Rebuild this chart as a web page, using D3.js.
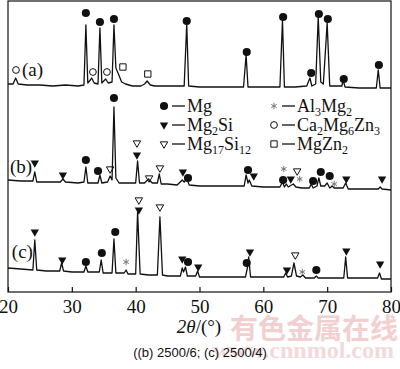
<!DOCTYPE html>
<html>
<head>
<meta charset="utf-8">
<script src="https://cdn.jsdelivr.net/npm/d3@7"></script>
<style>
  body { margin: 0; background: #fff; }
  svg { display: block; font-family: 'Liberation Serif', 'Times New Roman', serif; }
</style>
</head>
<body>
<svg width="400" height="369"></svg>
<script>
// 2theta tick labels
const tickValues = [20, 30, 40, 50, 60, 70, 80];

// [2theta, intensity (a.u.)], stacked as drawn
const patternA = [
  [20, 208], [20.8, 208], [21.2, 214], [21.6, 208], [23, 207], [25, 207], [27, 206],
  [29, 207], [31, 206], [31.9, 207], [32.2, 267], [32.5, 209], [32.9, 212], [33.1, 214],
  [33.5, 209], [34.1, 208], [34.4, 264], [34.7, 209], [35.0, 211], [35.3, 213], [35.7, 209],
  [36.3, 210], [36.6, 267], [36.9, 224], [37.3, 218], [37.8, 210], [38.4, 208], [39.5, 206],
  [40.8, 206], [41.4, 208], [41.8, 211], [42.3, 207], [43, 206], [45, 206], [47.6, 206],
  [48.0, 268], [48.3, 206], [50, 205], [53, 205], [56.9, 205], [57.3, 237], [57.6, 205],
  [59, 205], [62.6, 205], [63.0, 272], [63.3, 205], [65, 205], [66.8, 206], [67.3, 214],
  [67.6, 206], [68.2, 208], [68.6, 275], [69.0, 210], [69.4, 208], [70.0, 269], [70.4, 206],
  [71.5, 206], [72.3, 206], [72.5, 212], [72.8, 205], [75, 204], [77.7, 204], [78.0, 222],
  [78.3, 204], [80, 204]
];

const patternB = [
  [20, 112], [22, 111], [23.9, 111], [24.2, 120], [24.5, 110], [26, 110], [28.2, 110],
  [28.6, 113], [29, 110], [31, 109], [31.9, 110], [32.2, 125], [32.5, 109], [33.5, 109],
  [34.1, 109], [34.4, 117], [34.7, 109], [35.6, 110], [36.0, 116], [36.3, 112], [36.6, 185],
  [36.9, 114], [37.4, 109], [38.5, 109], [40.0, 109], [40.3, 131], [40.6, 109], [41.4, 109],
  [42.0, 113], [42.6, 109], [43.4, 109], [43.7, 118], [44.0, 108], [45, 108], [46.5, 107],
  [47.3, 112], [47.6, 110], [48.0, 113], [48.4, 107], [50, 106], [53, 106], [56, 106],
  [57.0, 106], [57.3, 117], [57.6, 109], [57.8, 112], [58.2, 106], [60, 105], [62.6, 105],
  [63.0, 110], [63.3, 105], [63.6, 108], [63.9, 105], [64.7, 108], [65.1, 105], [66, 104],
  [67.2, 104], [67.5, 108], [67.8, 104], [68.4, 106], [68.7, 114], [69.0, 106], [69.6, 106],
  [70.0, 109], [70.4, 104], [70.8, 106], [71.1, 104], [72.5, 104], [72.9, 109], [73.3, 103],
  [75, 103], [78, 103], [78.3, 105], [78.6, 103], [80, 102]
];

const patternC = [
  [20, 24], [22, 23], [23.9, 22], [24.2, 52], [24.5, 22], [26, 21], [28.1, 21], [28.4, 29],
  [28.7, 21], [30, 20], [31.9, 20], [32.2, 26], [32.5, 20], [34.3, 20], [34.6, 32],
  [34.9, 19], [36.3, 19], [36.6, 53], [36.9, 19], [38.2, 19], [38.5, 22], [38.8, 18],
  [40.0, 18], [40.3, 80], [40.7, 18], [42, 17], [43.4, 17], [43.8, 75], [44.2, 17], [45, 16],
  [47.0, 16], [47.3, 24], [47.5, 20], [47.8, 25], [48.1, 16], [49.4, 16], [49.7, 21],
  [50.0, 15], [52, 15], [55, 15], [57.2, 15], [57.5, 24], [57.7, 35], [58.0, 15], [60, 15],
  [63.2, 15], [63.5, 19], [63.8, 15], [64.4, 16], [64.8, 29], [65.2, 16], [65.8, 15],
  [66.2, 17], [66.6, 14], [68, 14], [68.3, 16], [68.6, 14], [72.6, 14], [72.9, 35],
  [73.2, 14], [75, 14], [77.9, 14], [78.2, 19], [78.5, 13], [80, 13]
];

const patternLabels = ['(a)', '(b)', '(c)'];

// phase markers: [symbol, 2theta, intensity]
const markersA = [
  ['ring', 21.25, 222], ['dot', 32.2, 279], ['ring', 33.3, 220], ['dot', 34.4, 270],
  ['ring', 35.5, 220], ['dot', 36.6, 273], ['box', 38.0, 225], ['box', 41.9, 218],
  ['dot', 48.0, 271], ['dot', 57.4, 240], ['dot', 63.1, 275], ['dot', 67.5, 219],
  ['dot', 68.7, 278], ['dot', 70.1, 273], ['dot', 72.6, 213], ['dot', 78.1, 227]
];

const markersB = [
  ['down', 24.2, 129], ['down', 28.6, 117], ['dot', 32.2, 132], ['dot', 34.1, 121],
  ['downOpen', 36.0, 123], ['dot', 36.6, 194], ['downOpen', 40.2, 149], ['down', 40.2, 137],
  ['downOpen', 42.1, 114], ['downOpen', 43.8, 124], ['down', 47.4, 120], ['dot', 48.2, 114],
  ['dot', 57.6, 122], ['down', 58.5, 116], ['star', 63.2, 123], ['dot', 63.1, 112],
  ['down', 64.3, 113], ['downOpen', 65.3, 121], ['star', 65.7, 113], ['dot', 67.8, 111],
  ['dot', 69.0, 120], ['dot', 70.4, 116], ['star', 71.1, 108], ['down', 73.0, 113],
  ['down', 78.6, 113]
];

const markersC = [
  ['down', 24.2, 60], ['down', 28.5, 32], ['dot', 32.2, 30], ['dot', 34.7, 39],
  ['dot', 36.8, 60], ['star', 38.5, 30], ['downOpen', 40.5, 92], ['down', 40.5, 82],
  ['downOpen', 43.8, 85], ['down', 47.3, 33], ['dot', 48.2, 30], ['down', 49.8, 25],
  ['dot', 57.4, 29], ['down', 57.9, 40], ['down', 63.7, 22], ['downOpen', 65.0, 37],
  ['star', 66.1, 20], ['dot', 68.3, 22], ['down', 73.0, 41], ['down', 78.3, 28]
];

// legend: phase names (_n = subscript) and their symbols
const phaseNames = ['Mg', 'Mg_2Si', 'Mg_17Si_12', 'Al_3Mg_2', 'Ca_2Mg_6Zn_3', 'MgZn_2'];
const phaseSymbols = ['dot', 'down', 'downOpen', 'star', 'ring', 'box'];

const svg = d3.select('svg');
const margin = {top: 1, right: 9, bottom: 77, left: 8};
const width = +svg.attr('width');
const height = +svg.attr('height');

const x = d3.scaleLinear().domain([20, 80])
  .range([margin.left, width - margin.right]);
const y = d3.scaleLinear().domain([0, 291])
  .range([height - margin.bottom, margin.top]);

// watermark sits behind everything
svg.append('text')
  .attr('x', 230).attr('y', 339)
  .attr('font-family', "'Noto Sans CJK SC', sans-serif")
  .attr('font-weight', 'bold')
  .attr('font-size', 28)
  .attr('fill', '#f2d0d0')
  .text('有色金属在线');
svg.append('text')
  .attr('x', 394).attr('y', 358)
  .attr('text-anchor', 'end')
  .attr('font-weight', 'bold')
  .attr('font-size', 24)
  .attr('fill', '#f3dada')
  .text('www.cnnmol.com');

svg.append('rect')
  .attr('x', x.range()[0]).attr('y', y.range()[1])
  .attr('width', x.range()[1] - x.range()[0])
  .attr('height', y.range()[0] - y.range()[1])
  .attr('fill', 'none')
  .attr('stroke', '#111')
  .attr('stroke-width', 1.2);

const axis = svg.append('g')
  .attr('transform', `translate(0,${y.range()[0]})`)
  .call(d3.axisBottom(x).tickValues(tickValues)
    .tickSizeInner(-5).tickSizeOuter(0).tickPadding(8));
axis.select('.domain').remove();
axis.selectAll('line').attr('stroke', '#111').attr('stroke-width', 1.2);
axis.selectAll('text')
  .attr('font-family', "'Liberation Serif', serif")
  .attr('font-size', 19)
  .attr('fill', '#111');

const title = svg.append('text')
  .attr('x', 199).attr('y', 333)
  .attr('text-anchor', 'middle')
  .attr('font-size', 19)
  .attr('fill', '#111');
title.append('tspan').attr('font-style', 'italic').text('2θ');
title.append('tspan').text('/(°)');

const line = d3.line()
  .x((d) => x(d[0]))
  .y((d) => y(d[1]));

[patternA, patternB, patternC].forEach((pattern) => {
  svg.append('path')
    .attr('d', line(pattern))
    .attr('fill', 'none')
    .attr('stroke', '#111')
    .attr('stroke-width', 1.3)
    .attr('stroke-linejoin', 'round');
});

// label anchors in (2theta, intensity)
const labelAt = [[22.2, 216], [20.3, 119], [20.6, 34]];
patternLabels.forEach((label, i) => {
  svg.append('text')
    .attr('x', x(labelAt[i][0])).attr('y', y(labelAt[i][1]))
    .attr('font-size', 19)
    .attr('fill', '#111')
    .text(label);
});

const symbolShape = {
  dot: d3.symbol(d3.symbolCircle, 52),
  down: d3.symbol(d3.symbolTriangle, 30),
  downOpen: d3.symbol(d3.symbolTriangle, 24),
  ring: d3.symbol(d3.symbolCircle, 36),
  box: d3.symbol(d3.symbolSquare, 40),
  star: d3.symbol(d3.symbolAsterisk, 28)
};

function drawSymbol(sel, kind) {
  const rotated = kind === 'down' || kind === 'downOpen';
  sel.append('path')
    .attr('d', symbolShape[kind]())
    .attr('transform', (d) => `translate(${d[0]},${d[1]})${rotated ? ' rotate(180)' : ''}`)
    .attr('fill', kind === 'dot' || kind === 'down' ? '#111' : 'none')
    .attr('stroke', kind === 'star' ? '#777' : '#111')
    .attr('stroke-width', kind === 'dot' || kind === 'down' ? 0 : 1);
}

[markersA, markersB, markersC].forEach((markers) => {
  markers.forEach(([kind, t, v]) => {
    const g = svg.append('g').datum([x(t), y(v)]);
    drawSymbol(g, kind);
  });
});

// legend, two columns of three
const legendCols = [164, 274];
const legendRows = [106, 125, 144];

phaseNames.forEach((name, i) => {
  const cx = legendCols[Math.floor(i / 3)];
  const cy = legendRows[i % 3];
  drawSymbol(svg.append('g').datum([cx, cy]), phaseSymbols[i]);
  svg.append('line')
    .attr('x1', cx + 8).attr('x2', cx + 21)
    .attr('y1', cy).attr('y2', cy)
    .attr('stroke', '#111')
    .attr('stroke-width', 1.3);
  const text = svg.append('text')
    .attr('x', cx + 23).attr('y', cy + 6)
    .attr('font-size', 18)
    .attr('fill', '#111');
  let shifted = false;
  name.split(/(_\d+)/).filter((s) => s).forEach((part) => {
    if (part.startsWith('_')) {
      text.append('tspan').attr('font-size', 12).attr('dy', 4).text(part.slice(1));
      shifted = true;
    } else {
      text.append('tspan').attr('dy', shifted ? -4 : 0).text(part);
      shifted = false;
    }
  });
});

svg.append('text')
  .attr('x', 200).attr('y', 357)
  .attr('text-anchor', 'middle')
  .attr('font-family', "'Liberation Sans', Arial, sans-serif")
  .attr('font-size', 13)
  .attr('fill', '#111')
  .text('((b) 2500/6; (c) 2500/4)');
</script>
</body>
</html>
